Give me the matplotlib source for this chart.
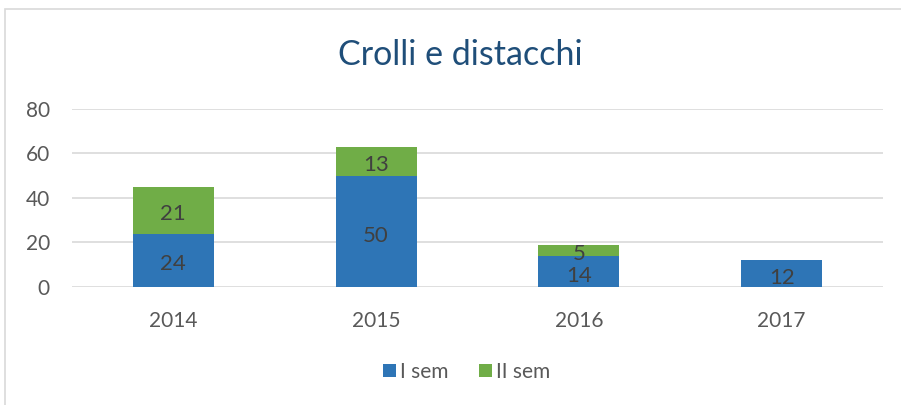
import matplotlib.pyplot as plt
from matplotlib.patches import Rectangle

# data
years = ["2014", "2015", "2016", "2017"]
sem1 = [24, 50, 14, 12]
sem2 = [21, 13, 5, 0]
series_names = ["I sem", "II sem"]

blue = "#2E75B6"
green = "#70AD47"

plt.rcParams["font.family"] = ["Lato", "DejaVu Sans"]

fig = plt.figure(figsize=(9.01, 4.05), dpi=100)
ax = fig.add_axes([0.0799, 0.2914, 0.9001, 0.4395])

# chart area border (cropped at right/bottom in the reference)
fig.patches.append(Rectangle((4.5 / 901, -0.1), 1.2, 1 - 9.5 / 405 + 0.1,
                             transform=fig.transFigure, fill=False,
                             edgecolor="#D9D9D9", linewidth=1.2))

x = range(len(years))
b1 = ax.bar(x, sem1, width=0.4, color=blue, label=series_names[0], zorder=3)
b2 = ax.bar(x, sem2, width=0.4, bottom=sem1, color=green,
            label=series_names[1], zorder=3)

ax.bar_label(b1, label_type="center", fontsize=16, color="#404040",
             padding=-3)
labels2 = [str(v) if v else "" for v in sem2]
ax.bar_label(b2, labels=labels2, label_type="center", fontsize=16,
             color="#404040", padding=-3)

ax.set_xlim(-0.5, len(years) - 0.5)
ax.set_ylim(0, 80)
ax.set_yticks([0, 20, 40, 60, 80])
ax.set_xticks(list(x))
ax.set_xticklabels(years)
ax.grid(axis="y", color="#D9D9D9", linewidth=1.2, zorder=0)
for s in ax.spines.values():
    s.set_visible(False)
ax.tick_params(axis="both", length=0, labelsize=15, labelcolor="#595959")
ax.tick_params(axis="x", pad=17)
ax.tick_params(axis="y", pad=16)

fig.text(0.511, 0.863, "Crolli e distacchi", ha="center", va="center",
         fontsize=24.5, color="#1F4E79")

fig.legend(loc="center", bbox_to_anchor=(0.518, 0.082), ncol=2, frameon=False,
           fontsize=15, handlelength=0.6, handleheight=0.6, handletextpad=0.2,
           columnspacing=1.5, labelcolor="#595959")

fig.savefig("out.png", dpi=100)
